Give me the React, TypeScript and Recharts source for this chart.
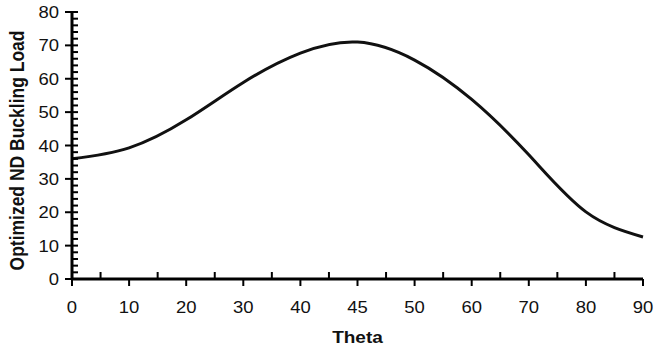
import React from 'react';
import { LineChart, Line, XAxis, YAxis, Label } from 'recharts';

// category axis as in the original plot (note the extra 45 in the middle)
const thetaLabels = ['0', '10', '20', '30', '40', '45', '50', '60', '70', '80', '90'];
const bucklingLoad = [36.0, 39.3, 47.7, 58.9, 67.7, 71.0, 65.6, 53.8, 37.2, 20.1, 12.6];
const yMajorTicks = [0, 10, 20, 30, 40, 50, 60, 70, 80];
const yMinorStep = 2;

const data = thetaLabels.map((theta, i) => ({ theta, load: bucklingLoad[i] }));
const yTicks: number[] = [];
for (let v = 0; v <= 80; v += yMinorStep) yTicks.push(v);

const WIDTH = 654;
const HEIGHT = 349;
const margin = { top: 12, right: 11, left: 0, bottom: 0 };
const Y_AXIS_W = 72;
const X_AXIS_H = 70;
const halfStep = (WIDTH - margin.right - Y_AXIS_W) / (thetaLabels.length - 1) / 2;

const font = '"Liberation Sans", Arial, sans-serif';

const YTick = ({ x, y, payload }: any) => {
  const v = payload.value as number;
  const major = yMajorTicks.includes(v);
  return (
    <g>
      <line x1={major ? x - 7 : x} x2={x + 6} y1={y} y2={y} stroke="#000" strokeWidth={2} />
      {major && (
        <text
          transform={`translate(${x - 13},${y + 6}) scale(1.12,1)`}
          textAnchor="end"
          fontSize={16.5}
          fontFamily={font}
          fill="#111"
        >
          {v}
        </text>
      )}
    </g>
  );
};

const XTick = ({ x, y, payload, index }: any) => (
  <g>
    <line x1={x} x2={x} y1={y} y2={y + 7} stroke="#000" strokeWidth={2} />
    {index > 0 && (
      <line x1={x - halfStep} x2={x - halfStep} y1={y - 7} y2={y} stroke="#000" strokeWidth={2} />
    )}
    <text
      transform={`translate(${x},${y + 34}) scale(1.12,1)`}
      textAnchor="middle"
      fontSize={16.5}
      fontFamily={font}
      fill="#111"
    >
      {payload.value}
    </text>
  </g>
);

export default function App() {
  return (
    <div style={{ position: 'absolute', left: 0, top: 0, background: '#fff' }}>
      <LineChart width={WIDTH} height={HEIGHT} data={data} margin={margin}>
        <XAxis
          dataKey="theta"
          type="category"
          height={X_AXIS_H}
          interval={0}
          padding={{ left: 0, right: 0 }}
          axisLine={{ stroke: '#000', strokeWidth: 3 }}
          tickLine={false}
          tickSize={0}
          tickMargin={0}
          tick={<XTick />}
        >
          <Label
            content={({ viewBox }: any) => (
              <text
                transform={`translate(${viewBox.x + viewBox.width / 2},${viewBox.y + 64}) scale(1.12,1)`}
                textAnchor="middle"
                fontSize={17}
                fontWeight="bold"
                fontFamily={font}
                fill="#111"
              >
                Theta
              </text>
            )}
          />
        </XAxis>
        <YAxis
          width={Y_AXIS_W}
          domain={[0, 80]}
          ticks={yTicks}
          interval={0}
          axisLine={{ stroke: '#000', strokeWidth: 3 }}
          tickLine={false}
          tickSize={0}
          tickMargin={0}
          tick={<YTick />}
        >
          <Label
            content={({ viewBox }: any) => (
              <text
                transform={`translate(24,${viewBox.y + viewBox.height / 2 + 5}) scale(1.12,1) rotate(-90)`}
                textAnchor="middle"
                fontSize={17.5}
                fontWeight="bold"
                fontFamily={font}
                fill="#111"
              >
                Optimized ND Buckling Load
              </text>
            )}
          />
        </YAxis>
        <Line
          type="natural"
          dataKey="load"
          stroke="#111"
          strokeWidth={3}
          dot={false}
          isAnimationActive={false}
        />
      </LineChart>
    </div>
  );
}
